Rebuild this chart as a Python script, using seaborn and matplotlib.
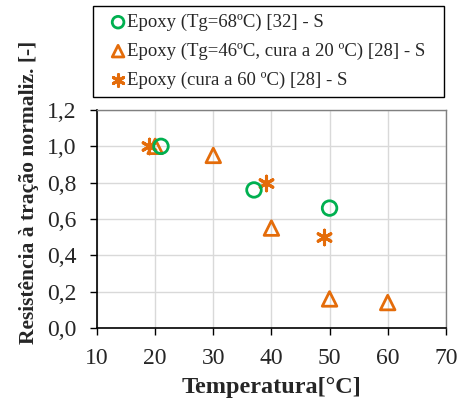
import matplotlib
matplotlib.use("Agg")
import matplotlib.pyplot as plt
import seaborn as sns
import pandas as pd

# Data
s1_label = "Epoxy (Tg=68ºC) [32] - S"
s1_x = [21, 37, 50]
s1_y = [1.00, 0.76, 0.66]

s2_label = "Epoxy (Tg=46ºC, cura a 20 ºC) [28] - S"
s2_x = [20, 30, 40, 50, 60]
s2_y = [1.00, 0.95, 0.55, 0.16, 0.14]

s3_label = "Epoxy (cura a 60 ºC) [28] - S"
s3_x = [19, 39, 49]
s3_y = [1.00, 0.80, 0.50]

x_ticks = [10, 20, 30, 40, 50, 60, 70]
y_ticks = [0.0, 0.2, 0.4, 0.6, 0.8, 1.0, 1.2]
y_ticklabels = ["0,0", "0,2", "0,4", "0,6", "0,8", "1,0", "1,2"]

sns.set_theme(style="white")
plt.rcParams["font.family"] = ["Liberation Serif", "DejaVu Serif"]

green = "#00B050"
orange = "#E46C0A"

fig = plt.figure(figsize=(4.62, 4.0), dpi=100)
ax = fig.add_axes([0.21, 0.18, 0.755, 0.545])

d1 = pd.DataFrame({"x": s1_x, "y": s1_y})
d2 = pd.DataFrame({"x": s2_x, "y": s2_y})
d3 = pd.DataFrame({"x": s3_x, "y": s3_y})

sns.scatterplot(data=d3, x="x", y="y", ax=ax, marker=(6, 2, 0), s=110,
                color=orange, linewidth=2.2, edgecolor=orange, label=s3_label, zorder=3)
sns.scatterplot(data=d2, x="x", y="y", ax=ax, marker="^", s=110,
                facecolor="none", edgecolor=orange, linewidth=2.0, label=s2_label, zorder=3)
sns.scatterplot(data=d1, x="x", y="y", ax=ax, marker="o", s=110,
                facecolor="none", edgecolor=green, linewidth=2.0, label=s1_label, zorder=4)

h, l = ax.get_legend_handles_labels()
if ax.get_legend() is not None:
    ax.get_legend().remove()

ax.set_xlim(10, 70)
ax.set_ylim(0, 1.2)
ax.set_xticks(x_ticks)
ax.set_yticks(y_ticks)
ax.set_yticklabels(y_ticklabels)
ax.tick_params(axis="both", labelsize=17, direction="out", length=5, width=1,
               color="black", bottom=True, left=True)
ax.tick_params(axis="x", pad=9.5)
ax.tick_params(axis="y", pad=10)
ax.grid(True, color="#d9d9d9", linewidth=1)
ax.set_axisbelow(True)
for side in ["left", "bottom"]:
    ax.spines[side].set_color("#000000")
    ax.spines[side].set_linewidth(1.2)
for side in ["top", "right"]:
    ax.spines[side].set_color("#808080")
    ax.spines[side].set_linewidth(1.0)

ax.set_xlabel("Temperatura[°C]", fontsize=17.5, fontweight="bold", labelpad=6)
ax.set_ylabel("Resistência à tração normaliz. [-]", fontsize=15.5, fontweight="bold")
ax.yaxis.set_label_coords(-0.166, 0.624)

order = [l.index(s1_label), l.index(s2_label), l.index(s3_label)]
leg = fig.legend([h[i] for i in order], [l[i] for i in order],
                 loc="upper left", bbox_to_anchor=(0.202, 0.76, 0.758, 0.225),
                 mode="expand", fontsize=13.5, frameon=True, fancybox=False,
                 edgecolor="black", handlelength=1.8, handletextpad=-0.45,
                 labelspacing=0.62, borderpad=0.42, markerscale=0.8,
                 borderaxespad=0)
leg.get_frame().set_linewidth(1.0)
leg.get_frame().set_alpha(1)

fig.savefig("out.png", dpi=100)
